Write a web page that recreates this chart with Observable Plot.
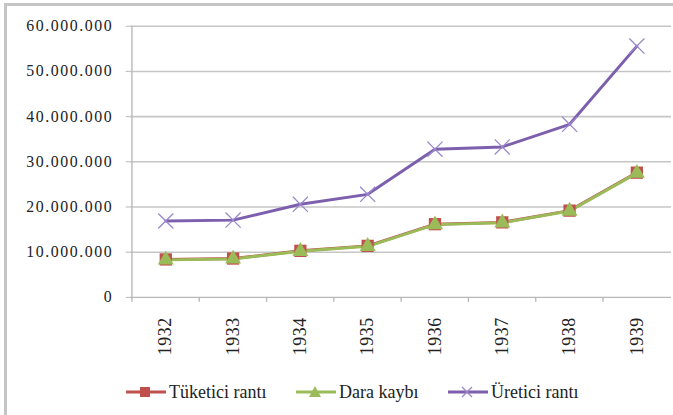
<!DOCTYPE html>
<html>
<head>
<meta charset="utf-8">
<script src="https://cdn.jsdelivr.net/npm/d3@7"></script>
<script src="https://cdn.jsdelivr.net/npm/@observablehq/plot@0.6"></script>
<style>
  html, body { margin: 0; padding: 0; width: 673px; height: 415px; overflow: hidden; background: #fff; }
  #frame { position: absolute; left: 4px; top: 3px; width: 720px; height: 460px;
           border-left: 3px solid #c4c4c4; border-top: 3px solid #c4c4c4; }
  #chart { position: absolute; left: 0; top: 0; }
  #chart svg { overflow: visible; }
  #chart svg text { font-family: 'Liberation Serif', 'Times New Roman', serif; }
  #chart g[aria-label="y-axis tick label"] text { letter-spacing: 1.6px; }
  #chart g[aria-label="x-axis tick label"] text { letter-spacing: 0.6px; }
  #legend { position: absolute; top: 380px; left: 0; width: 673px; height: 24px;
            font-family: 'Liberation Serif', 'Times New Roman', serif; font-size: 18px; color: #222; }
  .item { position: absolute; top: 0; display: flex; align-items: center; height: 24px; white-space: nowrap; }
  .item svg { margin-right: 3px; }
</style>
</head>
<body>
<div id="frame"></div>
<div id="chart"></div>
<div id="legend"></div>
<script>
const years = ["1932", "1933", "1934", "1935", "1936", "1937", "1938", "1939"];
const tuketiciRanti = [8.4e6, 8.6e6, 10.3e6, 11.4e6, 16.2e6, 16.6e6, 19.2e6, 27.6e6];
const daraKaybi     = [8.3e6, 8.5e6, 10.2e6, 11.3e6, 16.1e6, 16.5e6, 19.1e6, 27.5e6];
const ureticiRanti  = [16.9e6, 17.1e6, 20.6e6, 22.8e6, 32.8e6, 33.3e6, 38.3e6, 55.6e6];
const yTicks = [0, 10e6, 20e6, 30e6, 40e6, 50e6, 60e6];
const seriesNames = ["Tüketici rantı", "Dara kaybı", "Üretici rantı"];

const red = "#c0504d", green = "#9bbb59", purple = "#7d5fae", purpleMark = "#9a88cc";

const rows = (vals) => years.map((y, i) => ({year: y, value: vals[i]}));
const tk = rows(tuketiciRanti), dk = rows(daraKaybi), ur = rows(ureticiRanti);

const fmt = d3.formatLocale({decimal: ",", thousands: ".", grouping: [3], currency: ["", ""]}).format(",");

const step = (680 - 2 - 131) / years.length;
const serif = "'Liberation Serif', 'Times New Roman', serif";

const chart = Plot.plot({
  width: 680,
  height: 360,
  marginLeft: 131,
  marginRight: 2,
  marginTop: 26,
  marginBottom: 60,
  style: {fontFamily: serif, fontSize: "16px", color: "#222", background: "transparent"},
  x: {type: "point", domain: years, padding: 0.5},
  y: {domain: [0, 60e6], ticks: yTicks},
  marks: [
    Plot.ruleY(yTicks.slice(1), {stroke: "#c6c6c6", strokeWidth: 1.6}),
    Plot.ruleY([0], {stroke: "#b8b8b8", strokeWidth: 1.4}),
    Plot.axisY({ticks: yTicks, tickFormat: fmt, tickSize: 4, tickPadding: 13, stroke: "#b8b8b8", fontSize: 16, fontFamily: serif, label: null}),
    Plot.ruleX([years[0]], {stroke: "#b8b8b8", strokeWidth: 1.4, dx: -step / 2, y1: 0, y2: 60e6}),
    Plot.ruleX(years, {x: d => d, dx: -step / 2, y1: 0, y2: 0, insetBottom: -5, stroke: "#b8b8b8", strokeWidth: 1.4}),
    Plot.axisX({tickSize: 0, tickRotate: -90, tickPadding: 20, fontSize: 18, fontFamily: serif, label: null}),
    Plot.line(ur, {x: "year", y: "value", stroke: purple, strokeWidth: 3}),
    Plot.dot(ur, {x: "year", y: "value", symbol: "times", r: 7, stroke: purpleMark, strokeWidth: 1.3}),
    Plot.line(tk, {x: "year", y: "value", stroke: red, strokeWidth: 3}),
    Plot.line(dk, {x: "year", y: "value", stroke: green, strokeWidth: 3}),
    Plot.dot(tk, {x: "year", y: "value", symbol: "square", r: 7, fill: red, stroke: "none"}),
    Plot.dot(dk, {x: "year", y: "value", symbol: "triangle", r: 6, fill: green, stroke: "none"})
  ]
});
document.getElementById("chart").appendChild(chart);

// legend
const legend = document.getElementById("legend");
const items = [
  {name: seriesNames[0], color: red, sym: "square", left: 126},
  {name: seriesNames[1], color: green, sym: "triangle", left: 296},
  {name: seriesNames[2], color: purple, sym: "times", left: 448}
];
for (const it of items) {
  const div = document.createElement("div");
  div.className = "item";
  div.style.left = it.left + "px";
  let m;
  if (it.sym === "square") m = `<rect x="14" y="7" width="10" height="10" fill="${it.color}"/>`;
  else if (it.sym === "triangle") m = `<path d="M19,6 L25,17 L13,17 Z" fill="${it.color}"/>`;
  else m = `<path d="M14,7 L24,17 M24,7 L14,17" stroke="${purpleMark}" stroke-width="1.3" fill="none"/>`;
  div.innerHTML = `<svg width="40" height="24"><line x1="0" x2="40" y1="12" y2="12" stroke="${it.color}" stroke-width="3"/>${m}</svg><span>${it.name}</span>`;
  legend.appendChild(div);
}
</script>
</body>
</html>
